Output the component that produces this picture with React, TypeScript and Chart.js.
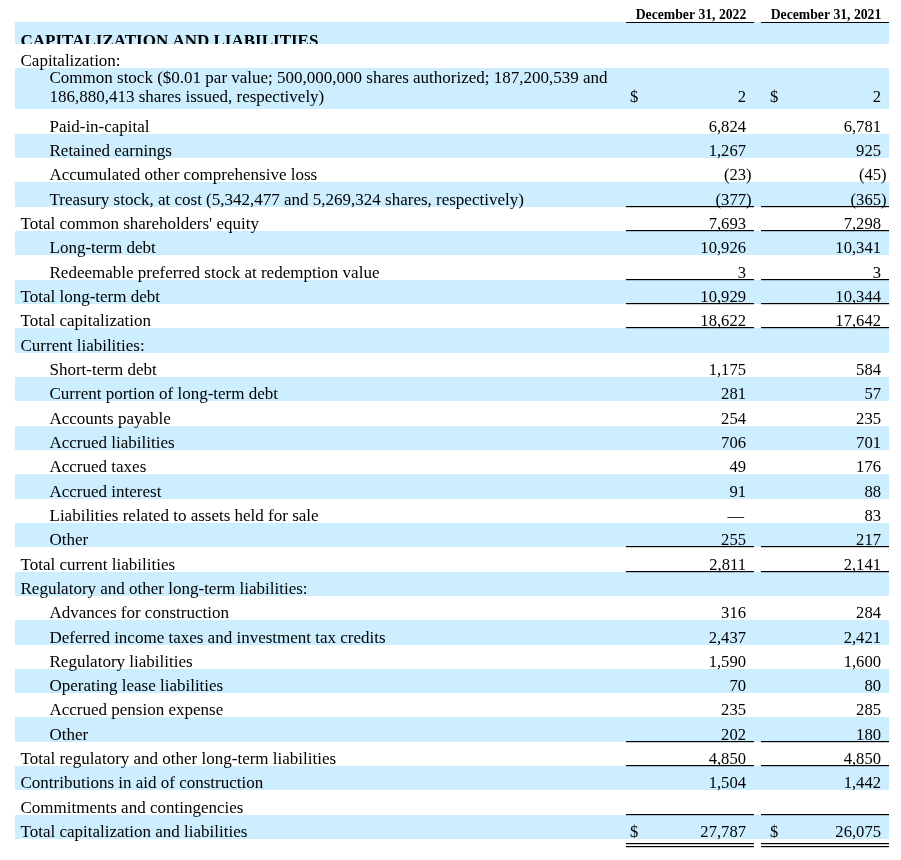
import React, { useEffect, useRef } from "react";
import { Chart, registerables } from "chart.js";

Chart.register(...registerables);

// ---------- DATA ----------
const columnHeaders: string[] = ["December 31, 2022", "December 31, 2021"];

const rowLabels: string[] = [
  "CAPITALIZATION AND LIABILITIES",
  "Capitalization:",
  "Common stock ($0.01 par value; 500,000,000 shares authorized; 187,200,539 and\n186,880,413 shares issued, respectively)",
  "Paid-in-capital",
  "Retained earnings",
  "Accumulated other comprehensive loss",
  "Treasury stock, at cost (5,342,477 and 5,269,324 shares, respectively)",
  "Total common shareholders' equity",
  "Long-term debt",
  "Redeemable preferred stock at redemption value",
  "Total long-term debt",
  "Total capitalization",
  "Current liabilities:",
  "Short-term debt",
  "Current portion of long-term debt",
  "Accounts payable",
  "Accrued liabilities",
  "Accrued taxes",
  "Accrued interest",
  "Liabilities related to assets held for sale",
  "Other",
  "Total current liabilities",
  "Regulatory and other long-term liabilities:",
  "Advances for construction",
  "Deferred income taxes and investment tax credits",
  "Regulatory liabilities",
  "Operating lease liabilities",
  "Accrued pension expense",
  "Other",
  "Total regulatory and other long-term liabilities",
  "Contributions in aid of construction",
  "Commitments and contingencies",
  "Total capitalization and liabilities",
];

const values2022: (number | null)[] = [
  null, null, 2, 6824, 1267, -23, -377, 7693, 10926, 3, 10929, 18622,
  null, 1175, 281, 254, 706, 49, 91, 0, 255, 2811,
  null, 316, 2437, 1590, 70, 235, 202, 4850, 1504, null, 27787,
];

const values2021: (number | null)[] = [
  null, null, 2, 6781, 925, -45, -365, 7298, 10341, 3, 10344, 17642,
  null, 584, 57, 235, 701, 176, 88, 83, 217, 2141,
  null, 284, 2421, 1600, 80, 285, 180, 4850, 1442, null, 26075,
];

// ---------- LAYOUT (row kinds, not data) ----------
// h = heading, s = section, i = indented item, t = total
const rowKinds: string[] = [
  "h", "s", "i", "i", "i", "i", "i", "t", "i", "i", "t", "t",
  "s", "i", "i", "i", "i", "i", "i", "i", "i", "t",
  "s", "i", "i", "i", "i", "i", "i", "t", "t", "t", "t",
];
// rows with a rule under the figures: 1 single, 2 double
const rowRules: number[] = [
  0, 0, 0, 0, 0, 0, 1, 1, 0, 1, 1, 1,
  0, 0, 0, 0, 0, 0, 0, 0, 1, 1,
  0, 0, 0, 0, 0, 0, 1, 1, 0, 1, 2,
];
const dollarRows: number[] = [2, 32];
const rowSpans: number[] = rowLabels.map((_, i) => (i === 0 ? 0.9 : i === 2 ? 1.7 : 1));

const FONT = '"Liberation Serif", "Times New Roman", Times, serif';
const BODY_SIZE = 17;

function fmt(v: number | null): { body: string; close: string } | null {
  if (v === null || v === undefined) return null;
  if (v === 0) return { body: "\u2014", close: "" };
  const s = Math.abs(v).toLocaleString("en-US");
  if (v < 0) return { body: "(" + s, close: ")" };
  return { body: s, close: "" };
}

const columns = [
  { values: values2022, lineStart: 626, lineEnd: 754, numRight: 746, dollarX: 630 },
  { values: values2021, lineStart: 761, lineEnd: 889, numRight: 881, dollarX: 770 },
];

const tablePlugin = {
  id: "financialTable",
  beforeDraw(chart: any) {
    const ctx: CanvasRenderingContext2D = chart.ctx;
    const xs = chart.scales.x;
    const ys = chart.scales.y;
    ctx.save();
    ctx.fillStyle = "#ffffff";
    ctx.fillRect(0, 0, chart.width, chart.height);
    let top = 0;
    rowLabels.forEach((_, i) => {
      const y0 = Math.round(ys.getPixelForValue(top));
      const y1 = Math.round(ys.getPixelForValue(top + rowSpans[i]));
      if (i % 2 === 0) {
        ctx.fillStyle = "#CCEEFF";
        const x0 = xs.getPixelForValue(15);
        const x1 = xs.getPixelForValue(889);
        ctx.fillRect(x0, y0, x1 - x0, y1 - y0);
      }
      top += rowSpans[i];
    });
    ctx.restore();
  },
  afterDraw(chart: any) {
    const ctx: CanvasRenderingContext2D = chart.ctx;
    const xs = chart.scales.x;
    const ys = chart.scales.y;
    ctx.save();
    ctx.fillStyle = "#000000";

    // column headers
    const headBottom = Math.round(ys.getPixelForValue(0));
    ctx.font = `bold 13.7px ${FONT}`;
    ctx.textAlign = "center";
    ctx.textBaseline = "alphabetic";
    columns.forEach((c, ci) => {
      const x0 = xs.getPixelForValue(c.lineStart);
      const x1 = xs.getPixelForValue(c.lineEnd);
      ctx.fillText(columnHeaders[ci], (x0 + x1) / 2 + 1, headBottom - 3.5);
      ctx.fillRect(x0, headBottom, x1 - x0, 1);
    });

    let top = 0;
    rowLabels.forEach((label, i) => {
      const y0 = Math.round(ys.getPixelForValue(top));
      const y1 = Math.round(ys.getPixelForValue(top + rowSpans[i]));
      const kind = rowKinds[i];
      const lx = xs.getPixelForValue(kind === "i" ? 49.5 : 20.5);
      ctx.textAlign = "left";
      let baseline = y1 - 2.5;
      if (kind === "h") {
        ctx.save();
        ctx.beginPath();
        ctx.rect(0, y0, chart.width, y1 - y0);
        ctx.clip();
        ctx.font = `bold 17px ${FONT}`;
        ctx.fillText(label, lx, y1 + 1.5);
        ctx.restore();
      } else {
        ctx.font = `${BODY_SIZE}px ${FONT}`;
        const lines = label.split("\n");
        if (lines.length > 1) {
          baseline = y1 - 7;
          ctx.fillText(lines[0], lx, baseline - 19);
          ctx.fillText(lines[1], lx, baseline);
        } else {
          ctx.fillText(label, lx, baseline);
        }
      }

      columns.forEach((c) => {
        const f = fmt(c.values[i]);
        const nr = xs.getPixelForValue(c.numRight);
        if (f) {
          ctx.font = `16.6px ${FONT}`;
          ctx.textAlign = "right";
          ctx.fillText(f.body, f.body === "\u2014" ? nr - 2 : nr, baseline);
          if (f.close) {
            ctx.textAlign = "left";
            ctx.fillText(f.close, nr, baseline);
          }
          if (dollarRows.includes(i)) {
            ctx.textAlign = "left";
            ctx.fillText("$", xs.getPixelForValue(c.dollarX), baseline);
          }
        }
        const x0 = xs.getPixelForValue(c.lineStart);
        const x1 = xs.getPixelForValue(c.lineEnd);
        if (rowRules[i] === 1) {
          ctx.fillRect(x0, y1 - 1, x1 - x0, 1.2);
        } else if (rowRules[i] === 2) {
          ctx.fillRect(x0, y1 + 4, x1 - x0, 1.2);
          ctx.fillRect(x0, y1 + 7, x1 - x0, 1.2);
        }
      });
      top += rowSpans[i];
    });
    ctx.restore();
  },
};

export default function App() {
  const canvasRef = useRef<HTMLCanvasElement | null>(null);

  useEffect(() => {
    document.body.style.margin = "0";
    const canvas = canvasRef.current;
    if (!canvas) return;
    const totalSlots = rowSpans.reduce((a, b) => a + b, 0);
    const chart = new Chart(canvas, {
      type: "scatter",
      data: { datasets: [] },
      options: {
        responsive: false,
        animation: false,
        devicePixelRatio: 1,
        layout: { padding: 0 },
        plugins: { legend: { display: false }, tooltip: { enabled: false } },
        scales: {
          x: { type: "linear", min: 0, max: 901, display: false },
          y: { type: "linear", min: -0.9, max: totalSlots + 0.86, reverse: true, display: false },
        },
      },
      plugins: [tablePlugin],
    });
    return () => chart.destroy();
  }, []);

  return <canvas ref={canvasRef} width={901} height={860} style={{ display: "block" }} />;
}
